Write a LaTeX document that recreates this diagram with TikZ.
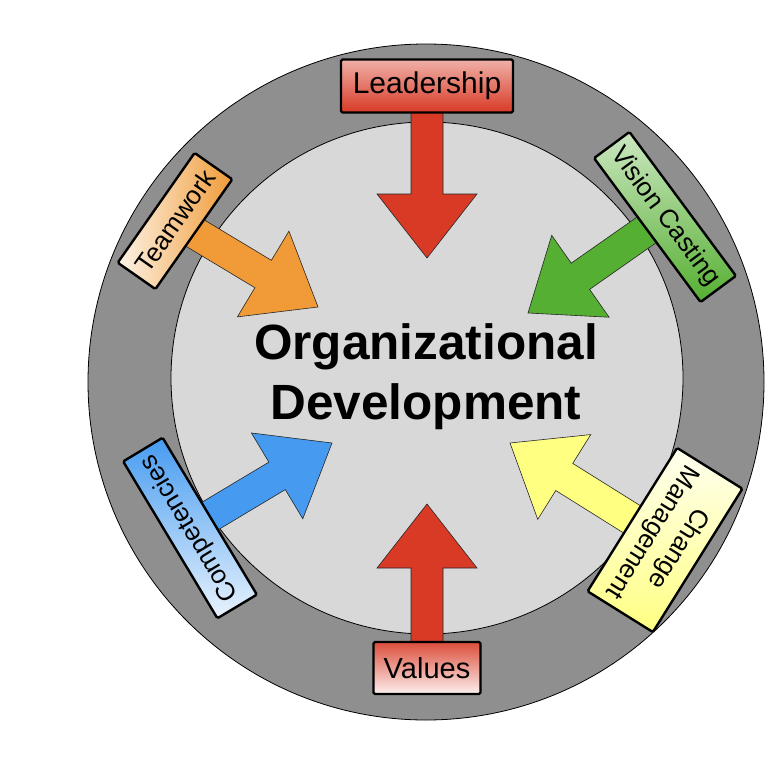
\documentclass[tikz,border=0pt]{standalone}
\usepackage{fontspec}
\setmainfont{Liberation Sans}
\usetikzlibrary{calc}
\definecolor{ringgray}{RGB}{143,143,143}
\definecolor{innergray}{RGB}{216,216,216}
\definecolor{odred}{RGB}{216,58,38}
\definecolor{odorange}{RGB}{240,155,55}
\definecolor{odgreen}{RGB}{85,175,50}
\definecolor{odblue}{RGB}{70,155,240}
\definecolor{odyellow}{RGB}{255,255,130}
\tikzset{
  label box/.style={draw=black, line width=2.4pt, rounded corners=1.5pt, inner sep=0pt, align=center, text=black},
  block arrow/.style={draw=black!85, line width=0.6pt},
  side font/.style={font=\fontsize{26}{30}\selectfont},
}
\newcommand\odarrow[3]{%
  \coordinate (#2h) at ($(#2)!64pt!(#1)$);
  \filldraw[block arrow, fill=#3]
    ($(#1)!16pt!90:(#2)$) -- ($(#2h)!16pt!-90:(#1)$) -- ($(#2h)!50pt!-90:(#1)$)
    -- (#2) -- ($(#2h)!50pt!90:(#1)$) -- ($(#2h)!16pt!90:(#1)$)
    -- ($(#1)!16pt!-90:(#2)$) -- cycle;
}
\begin{document}
\begin{tikzpicture}[x=1pt,y=1pt]
\useasboundingbox (0,0) rectangle (768,-768);
\fill[white] (0,0) rectangle (768,-768);
% rings
\filldraw[fill=ringgray, draw=black, line width=0.8pt] (426,-382) circle (338);
\filldraw[fill=innergray, draw=black, line width=0.8pt] (427,-378) circle (256);
% box centres and arrow tips
\coordinate (cL) at (427,-86);   \coordinate (tL) at (427,-258);
\coordinate (cV) at (427,-668);  \coordinate (tV) at (427,-504);
\coordinate (cT) at (175,-221);  \coordinate (tT) at (318,-307);
\coordinate (cVC) at (665,-217); \coordinate (tVC) at (528,-313);
\coordinate (cC) at (190,-528);  \coordinate (tC) at (332,-443);
\coordinate (cCM) at (665,-540); \coordinate (tCM) at (510,-443);
% arrows
\odarrow{cL}{tL}{odred}
\odarrow{cV}{tV}{odred}
\odarrow{cT}{tT}{odorange}
\odarrow{cVC}{tVC}{odgreen}
\odarrow{cC}{tC}{odblue}
\odarrow{cCM}{tCM}{odyellow}
% label boxes
\node[label box, minimum width=172pt, minimum height=53pt,
      top color=odred!40!white, bottom color=odred, font=\fontsize{30}{34}\selectfont]
      (L) at (cL) {Leadership};
\node[label box, minimum width=107pt, minimum height=52pt,
      top color=odred!90!white, bottom color=odred!8!white, font=\fontsize{29}{33}\selectfont]
      (V) at (cV) {Values};
\node[label box, side font, minimum width=134pt, minimum height=46pt, rotate=55,
      left color=odorange!12!white, right color=odorange]
      (T) at (cT) {Teamwork};
\node[label box, side font, minimum width=179pt, minimum height=44pt, rotate=-53.5,
      top color=odgreen!30!white, bottom color=odgreen]
      (VC) at (cVC) {Vision Casting};
\node[label box, side font, minimum width=183pt, minimum height=46pt, rotate=121,
      top color=odblue, bottom color=odblue!12!white]
      (C) at (cC) {Competencies};
\node[label box, side font, minimum width=169pt, minimum height=77pt, rotate=-122,
      top color=odyellow!12!white, bottom color=odyellow, font=\fontsize{26}{31}\selectfont]
      (CM) at (cCM) {Change\\Management};
% centre title
\node[align=center, text=black, font=\bfseries\fontsize{49.5}{60}\selectfont]
      (OD) at (426,-377) {Organizational\\Development};
\end{tikzpicture}
\end{document}
